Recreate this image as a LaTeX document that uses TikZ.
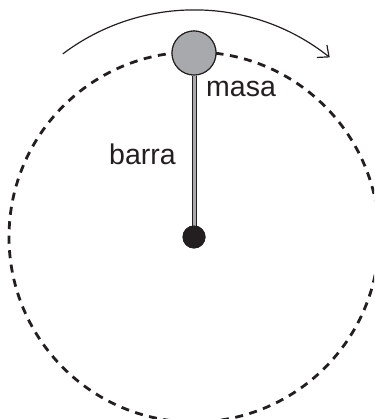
\documentclass[tikz,border=0pt]{standalone}
\usepackage{fontspec}
\setmainfont{Liberation Sans}
\usetikzlibrary{arrows.meta}
\definecolor{ink}{HTML}{231F20}
\definecolor{massgray}{HTML}{A7A9AC}
\tikzset{
  orbit/.style={draw=ink, line width=2.8pt, dash pattern=on 8pt off 6.5pt},
  label/.style={font=\fontsize{28.5}{32}\selectfont, text=ink, inner sep=0pt},
  rod/.style={draw=ink, line width=1pt, double=massgray, double distance=3pt},
  massball/.style={circle, draw=ink, line width=1.1pt, fill=massgray, minimum size=44pt, inner sep=0pt},
  pivot/.style={circle, fill=ink, minimum size=23pt, inner sep=0pt},
  motion/.style={draw=ink, line width=1.2pt, -{Straight Barb[length=9pt,width=16pt,line width=1.2pt]}}
}
\begin{document}
\begin{tikzpicture}[x=1pt,y=1pt]
\useasboundingbox (0,0) rectangle (374,419);
\clip (0,0) rectangle (374,419);
\coordinate (c) at (194,182);
\draw[orbit] (c) circle[radius=185];
\node[pivot] (dot) at (c) {};
\node[massball] (mass) at (194,366) {};
\draw[rod] (mass.south) -- (dot.center);
\node[massball] at (mass) {};
\node[pivot] at (dot) {};
\draw[motion] (194,191) ++(127:218) coordinate (arcstart) arc[start angle=127, end angle=51.5, radius=218] coordinate (arcend);
\node[label, anchor=base west] (masa) at (206,322) {masa};
\node[label, anchor=base west] (barra) at (109,254) {barra};
\end{tikzpicture}
\end{document}
